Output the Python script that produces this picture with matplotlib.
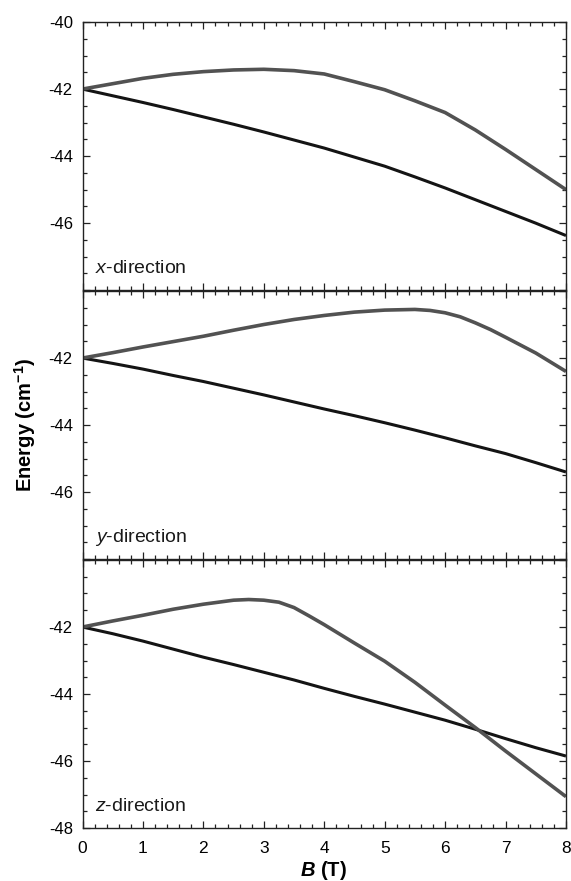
import matplotlib
matplotlib.use("Agg")
import matplotlib.pyplot as plt
from matplotlib.ticker import MultipleLocator, FixedLocator, FixedFormatter

plt.rcParams["axes.unicode_minus"] = False
plt.rcParams["mathtext.fontset"] = "custom"
plt.rcParams["mathtext.rm"] = "Liberation Sans"
plt.rcParams["mathtext.it"] = "Liberation Sans:italic"
plt.rcParams["mathtext.bf"] = "Liberation Sans:bold"
plt.rcParams["mathtext.bfit"] = "Liberation Sans:italic:bold"

# Magnetic field (T)
field = [0, 0.5, 1, 1.5, 2, 2.5, 3, 3.5, 4, 4.5, 5, 5.5, 6, 6.5, 7, 7.5, 8]

# Energy levels (cm^-1) for field along x
x_upper = [-42.0, -41.84, -41.68, -41.56, -41.48, -41.43, -41.41, -41.45, -41.55,
           -41.78, -42.02, -42.35, -42.70, -43.22, -43.80, -44.40, -45.00]
x_lower = [-42.0, -42.20, -42.40, -42.61, -42.83, -43.05, -43.28, -43.52, -43.76,
           -44.03, -44.30, -44.62, -44.95, -45.30, -45.65, -46.00, -46.37]

# Energy levels (cm^-1) for field along y
y_upper_field = [0, 0.5, 1, 1.5, 2, 2.5, 3, 3.5, 4, 4.5, 5, 5.5, 5.75, 6, 6.25,
                 6.5, 6.75, 7, 7.5, 8]
y_upper = [-42.0, -41.84, -41.67, -41.51, -41.35, -41.17, -41.00, -40.85, -40.73,
           -40.63, -40.57, -40.55, -40.58, -40.65, -40.77, -40.95, -41.15, -41.38,
           -41.85, -42.40]
y_lower = [-42.0, -42.16, -42.33, -42.52, -42.70, -42.90, -43.10, -43.31, -43.52,
           -43.72, -43.93, -44.15, -44.38, -44.62, -44.85, -45.12, -45.40]

# Energy levels (cm^-1) for field along z
z_upper_field = [0, 0.5, 1, 1.5, 2, 2.5, 2.75, 3, 3.25, 3.5, 3.75, 4, 4.5, 5,
                 5.5, 6, 6.5, 7, 7.5, 8]
z_upper = [-42.0, -41.82, -41.65, -41.47, -41.32, -41.20, -41.18, -41.20, -41.26,
           -41.42, -41.67, -41.93, -42.48, -43.02, -43.65, -44.33, -45.00, -45.70,
           -46.38, -47.06]
z_lower = [-42.0, -42.20, -42.42, -42.66, -42.90, -43.12, -43.35, -43.58, -43.83,
           -44.07, -44.30, -44.54, -44.78, -45.05, -45.33, -45.60, -45.85]

panels = [
    ("x", field, x_upper, x_lower, ["", "-46", "-44", "-42", "-40"]),
    ("y", y_upper_field, y_upper, y_lower, ["", "-46", "-44", "-42", ""]),
    ("z", z_upper_field, z_upper, z_lower, ["-48", "-46", "-44", "-42", ""]),
]
y_ticks = [-48, -46, -44, -42, -40]
x_ticks = [0, 1, 2, 3, 4, 5, 6, 7, 8]

fig = plt.figure(figsize=(5.71, 8.81), dpi=100)
left, width = 0.1445, 0.8467
tops = [0.975, 0.6697, 0.3644]
height = 0.3044

for i, (axis, upper_field, upper, lower, ylabels) in enumerate(panels):
    ax = fig.add_axes([left, tops[i] - height, width, height])
    ax.plot(field, lower, color="#141414", lw=2.2, solid_capstyle="butt")
    ax.plot(upper_field, upper, color="#525252", lw=2.6, solid_capstyle="butt",
            solid_joinstyle="round")
    ax.set_xlim(0, 8)
    ax.set_ylim(-48, -40)
    ax.yaxis.set_major_locator(FixedLocator(y_ticks))
    ax.yaxis.set_major_formatter(FixedFormatter(ylabels))
    ax.yaxis.set_minor_locator(MultipleLocator(0.5))
    ax.xaxis.set_major_locator(FixedLocator(x_ticks))
    ax.xaxis.set_minor_locator(MultipleLocator(0.2))
    ax.tick_params(which="both", direction="in", top=True, right=True,
                   width=0.9, color="#222222")
    ax.tick_params(which="major", length=5)
    ax.tick_params(which="minor", length=2.6)
    ax.tick_params(axis="y", pad=7)
    for sp in ax.spines.values():
        sp.set_linewidth(1.0)
        sp.set_color("#222222")
    for lab in ax.get_yticklabels():
        lab.set_family("Liberation Sans")
        lab.set_fontsize(12)
    if i < 2:
        ax.set_xticklabels([])
    else:
        ax.set_xticklabels([str(v) for v in x_ticks])
        for lab in ax.get_xticklabels():
            lab.set_family("Liberation Sans")
            lab.set_fontsize(12.5)
        ax.tick_params(axis="x", pad=9)
    ax.text(0.2, -47.5, f"$\\it{{{axis}}}$-direction", fontsize=14,
            family="Liberation Sans", color="#1a1a1a", va="baseline")

fig.text(0.567, 1 - 876 / 881, r"$\mathbfit{B}$ (T)", fontsize=14.5,
         family="Liberation Sans", fontweight="bold", ha="center", va="baseline")
fig.text(25 / 571, 1 - 425 / 881, r"Energy (cm$^{\mathbf{-1}}$)", fontsize=14.5,
         family="Liberation Sans", fontweight="bold", rotation=90,
         ha="center", va="center")

fig.savefig("out.png", dpi=100)
